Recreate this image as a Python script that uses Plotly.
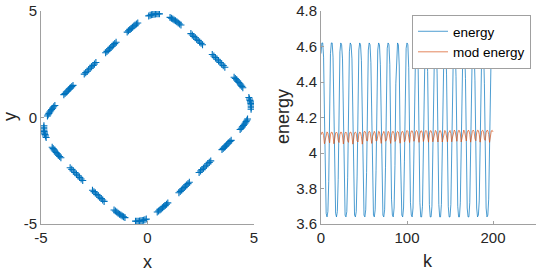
import plotly.graph_objects as go

# ---- phase-plane points (x, y) ----
x_pts = [
    -4.697, -4.665, -4.629, -4.589, -4.545, -4.503, -4.453, -4.403, -4.349,
    -3.927, -3.872, -3.820, -3.769, -3.713, -3.658, -3.606, -3.553, -3.497,
    -2.969, -2.901, -2.832, -2.764, -2.696, -2.628, -2.560, -2.491, -2.423,
    -1.965, -1.904, -1.843, -1.781, -1.720, -1.659, -1.598, -1.536, -1.475,
    -0.954, -0.891, -0.828, -0.765, -0.705, -0.642, -0.583, -0.520, -0.457,
    0.058, 0.121, 0.184, 0.247, 0.310, 0.373, 0.436, 0.499, 0.562,
    1.059, 1.123, 1.187, 1.251, 1.315, 1.379, 1.443, 1.507, 1.571,
    2.037, 2.105, 2.173, 2.242, 2.310, 2.378, 2.447, 2.515, 2.583,
    3.041, 3.115, 3.189, 3.262, 3.336, 3.410, 3.483, 3.557, 3.631,
    4.066, 4.123, 4.180, 4.234, 4.289, 4.342, 4.383, 4.430, 4.475,
    4.759, 4.789, 4.813, 4.834, 4.852, 4.862, 4.867, 4.868, 4.863,
    4.697, 4.665, 4.629, 4.589, 4.545, 4.503, 4.453, 4.403, 4.349,
    3.927, 3.872, 3.820, 3.769, 3.713, 3.658, 3.606, 3.553, 3.497,
    2.969, 2.901, 2.832, 2.764, 2.696, 2.628, 2.560, 2.491, 2.423,
    1.965, 1.904, 1.843, 1.781, 1.720, 1.659, 1.598, 1.536, 1.475,
    0.954, 0.891, 0.828, 0.765, 0.705, 0.642, 0.583, 0.520, 0.457,
    -0.058, -0.121, -0.184, -0.247, -0.310, -0.373, -0.436, -0.499, -0.562,
    -1.059, -1.123, -1.187, -1.251, -1.315, -1.379, -1.443, -1.507, -1.571,
    -2.037, -2.105, -2.173, -2.242, -2.310, -2.378, -2.447, -2.515, -2.583,
    -3.041, -3.115, -3.189, -3.262, -3.336, -3.410, -3.483, -3.557, -3.631,
    -4.066, -4.123, -4.180, -4.234, -4.289, -4.342, -4.383, -4.430, -4.475,
    -4.759, -4.789, -4.813, -4.834, -4.852, -4.862, -4.867, -4.868, -4.863,
]
y_pts = [
    0.068, 0.131, 0.194, 0.257, 0.320, 0.376, 0.439, 0.502, 0.565,
    1.073, 1.129, 1.182, 1.234, 1.290, 1.346, 1.399, 1.451, 1.507,
    2.037, 2.105, 2.173, 2.242, 2.310, 2.378, 2.447, 2.515, 2.583,
    3.042, 3.103, 3.164, 3.225, 3.286, 3.347, 3.408, 3.469, 3.530,
    4.010, 4.068, 4.126, 4.183, 4.235, 4.290, 4.338, 4.388, 4.436,
    4.770, 4.796, 4.819, 4.837, 4.852, 4.861, 4.867, 4.869, 4.866,
    4.699, 4.663, 4.623, 4.581, 4.537, 4.490, 4.441, 4.392, 4.340,
    3.939, 3.873, 3.808, 3.742, 3.677, 3.612, 3.546, 3.481, 3.415,
    2.961, 2.886, 2.811, 2.735, 2.660, 2.585, 2.509, 2.434, 2.359,
    1.893, 1.831, 1.769, 1.707, 1.645, 1.583, 1.521, 1.459, 1.397,
    0.941, 0.872, 0.803, 0.734, 0.665, 0.596, 0.527, 0.458, 0.389,
    -0.068, -0.131, -0.194, -0.257, -0.320, -0.376, -0.439, -0.502, -0.565,
    -1.073, -1.129, -1.182, -1.234, -1.290, -1.346, -1.399, -1.451, -1.507,
    -2.037, -2.105, -2.173, -2.242, -2.310, -2.378, -2.447, -2.515, -2.583,
    -3.042, -3.103, -3.164, -3.225, -3.286, -3.347, -3.408, -3.469, -3.530,
    -4.010, -4.068, -4.126, -4.183, -4.235, -4.290, -4.338, -4.388, -4.436,
    -4.770, -4.796, -4.819, -4.837, -4.852, -4.861, -4.867, -4.869, -4.866,
    -4.699, -4.663, -4.623, -4.581, -4.537, -4.490, -4.441, -4.392, -4.340,
    -3.939, -3.873, -3.808, -3.742, -3.677, -3.612, -3.546, -3.481, -3.415,
    -2.961, -2.886, -2.811, -2.735, -2.660, -2.585, -2.509, -2.434, -2.359,
    -1.893, -1.831, -1.769, -1.707, -1.645, -1.583, -1.521, -1.459, -1.397,
    -0.941, -0.872, -0.803, -0.734, -0.665, -0.596, -0.527, -0.458, -0.389,
]

# ---- energy vs step k ----
k_steps = list(range(201))
energy = [
    4.56, 4.62, 4.62, 4.54, 4.22, 3.79, 3.66, 3.64, 3.67, 3.84,
    4.29, 4.56, 4.62, 4.62, 4.54, 4.20, 3.78, 3.66, 3.64, 3.67, 3.85,
    4.31, 4.57, 4.62, 4.61, 4.53, 4.19, 3.78, 3.65, 3.64, 3.67, 3.86,
    4.32, 4.57, 4.62, 4.61, 4.53, 4.17, 3.77, 3.65, 3.64, 3.67, 3.87,
    4.34, 4.58, 4.62, 4.61, 4.52, 4.15, 3.76, 3.65, 3.64, 3.68, 3.89,
    4.35, 4.58, 4.62, 4.61, 4.51, 4.13, 3.75, 3.65, 3.64, 3.68, 3.90,
    4.37, 4.58, 4.62, 4.61, 4.50, 4.12, 3.74, 3.65, 3.64, 3.68, 3.92,
    4.38, 4.59, 4.62, 4.61, 4.50, 4.10, 3.74, 3.65, 3.64, 3.69, 3.93,
    4.39, 4.59, 4.62, 4.61, 4.49, 4.08, 3.73, 3.65, 3.64, 3.69, 3.95,
    4.40, 4.59, 4.62, 4.61, 4.48, 4.06, 3.72, 3.65, 3.64, 3.69, 3.96,
    4.42, 4.59, 4.62, 4.60, 4.47, 4.05, 3.72, 3.64, 3.64, 3.70, 3.98,
    4.43, 4.60, 4.62, 4.60, 4.46, 4.03, 3.71, 3.64, 3.64, 3.70, 3.99,
    4.44, 4.60, 4.62, 4.60, 4.45, 4.01, 3.71, 3.64, 3.64, 3.71, 4.01,
    4.45, 4.60, 4.62, 4.60, 4.44, 4.00, 3.70, 3.64, 3.64, 3.71, 4.03,
    4.46, 4.60, 4.62, 4.60, 4.43, 3.98, 3.70, 3.64, 3.64, 3.72, 4.04,
    4.47, 4.60, 4.62, 4.59, 4.42, 3.97, 3.69, 3.64, 3.64, 3.72, 4.06,
    4.48, 4.61, 4.62, 4.59, 4.41, 3.95, 3.69, 3.64, 3.65, 3.73, 4.08,
    4.49, 4.61, 4.62, 4.59, 4.39, 3.93, 3.69, 3.64, 3.65, 3.74, 4.10,
    4.50, 4.61, 4.62, 4.59,
]
mod_energy = [
    4.102, 4.117, 4.116, 4.098, 4.052, 4.082, 4.113, 4.119, 4.111, 4.074,
    4.057, 4.103, 4.117, 4.116, 4.097, 4.052, 4.084, 4.113, 4.118, 4.110,
    4.072, 4.059, 4.104, 4.118, 4.116, 4.096, 4.051, 4.085, 4.114, 4.118,
    4.109, 4.070, 4.060, 4.105, 4.118, 4.116, 4.094, 4.050, 4.087, 4.114,
    4.118, 4.109, 4.068, 4.062, 4.106, 4.118, 4.115, 4.093, 4.050, 4.089,
    4.119, 4.122, 4.112, 4.070, 4.068, 4.111, 4.122, 4.119, 4.095, 4.054,
    4.094, 4.119, 4.122, 4.111, 4.068, 4.069, 4.112, 4.122, 4.119, 4.093,
    4.054, 4.096, 4.119, 4.122, 4.110, 4.067, 4.071, 4.112, 4.122, 4.118,
    4.092, 4.054, 4.098, 4.120, 4.122, 4.109, 4.065, 4.073, 4.113, 4.122,
    4.118, 4.090, 4.055, 4.099, 4.120, 4.122, 4.108, 4.063, 4.075, 4.114,
    4.127, 4.122, 4.092, 4.059, 4.104, 4.124, 4.125, 4.111, 4.066, 4.081,
    4.118, 4.127, 4.121, 4.091, 4.060, 4.106, 4.124, 4.125, 4.110, 4.065,
    4.083, 4.119, 4.127, 4.121, 4.089, 4.061, 4.107, 4.125, 4.125, 4.109,
    4.063, 4.085, 4.119, 4.127, 4.120, 4.087, 4.062, 4.108, 4.125, 4.125,
    4.108, 4.062, 4.086, 4.120, 4.127, 4.120, 4.085, 4.063, 4.109, 4.125,
    4.127, 4.109, 4.063, 4.090, 4.123, 4.129, 4.121, 4.085, 4.066, 4.112,
    4.127, 4.126, 4.108, 4.062, 4.092, 4.123, 4.129, 4.121, 4.083, 4.068,
    4.113, 4.127, 4.126, 4.106, 4.061, 4.094, 4.123, 4.129, 4.120, 4.081,
    4.069, 4.114, 4.128, 4.126, 4.105, 4.061, 4.096, 4.124, 4.128, 4.119,
    4.079, 4.071, 4.115, 4.128, 4.126, 4.104, 4.060, 4.097, 4.124, 4.128,
    4.119,
]

phase_ticks = [-5, 0, 5]
phase_ticktext = ["-5", "0", "5"]
k_ticks = [0, 100, 200]
e_ticks = [3.6, 3.8, 4.0, 4.2, 4.4, 4.6, 4.8]
e_ticktext = ["3.6", "3.8", "4", "4.2", "4.4", "4.6", "4.8"]

BLUE = "#0072BD"
ORANGE = "#D95319"
AXC = "#a0a0a0"
TXT = "#262626"
FONT = "Liberation Sans, Arial, Helvetica, sans-serif"
W, H = 540, 274

fig = go.Figure()
fig.add_trace(go.Scatter(
    x=x_pts, y=y_pts, mode="markers", xaxis="x", yaxis="y", showlegend=False,
    marker=dict(symbol="cross-thin", size=5, color=BLUE,
                line=dict(color=BLUE, width=1.1)),
))
fig.add_trace(go.Scatter(
    x=k_steps, y=energy, mode="lines", name="energy", xaxis="x2", yaxis="y2",
    line=dict(color=BLUE, width=0.7),
))
fig.add_trace(go.Scatter(
    x=k_steps, y=mod_energy, mode="lines", name="mod energy", xaxis="x2", yaxis="y2",
    line=dict(color=ORANGE, width=0.7),
))

axis_common = dict(
    showgrid=False, zeroline=False, showline=True, linecolor=AXC, linewidth=1,
    ticks="inside", ticklen=3, tickcolor=AXC, mirror=False, automargin=False,
    tickfont=dict(family=FONT, size=15, color=TXT),
)

title_font = dict(family=FONT, size=18, color=TXT)
annotations = [
    dict(text="x", x=147.5 / W, y=1 - 262 / H, xref="paper", yref="paper",
         showarrow=False, xanchor="center", yanchor="middle", font=title_font),
    dict(text="y", x=10 / W, y=1 - 117 / H, xref="paper", yref="paper",
         showarrow=False, xanchor="center", yanchor="middle", textangle=-90,
         font=title_font),
    dict(text="k", x=428 / W, y=1 - 261 / H, xref="paper", yref="paper",
         showarrow=False, xanchor="center", yanchor="middle", font=title_font),
    dict(text="energy", x=283 / W, y=1 - 117 / H, xref="paper", yref="paper",
         showarrow=False, xanchor="center", yanchor="middle", textangle=-90,
         font=title_font),
]

fig.update_layout(
    width=W, height=H,
    margin=dict(l=0, r=0, t=0, b=0, autoexpand=False),
    paper_bgcolor="white", plot_bgcolor="white",
    font=dict(family=FONT, color=TXT),
    xaxis=dict(domain=[41/W, 254/W], range=[-5, 5], anchor="y",
               tickvals=phase_ticks, ticktext=phase_ticktext, **axis_common),
    yaxis=dict(domain=[50/H, 263/H], range=[-5, 5], anchor="x",
               tickvals=phase_ticks, ticktext=phase_ticktext, **axis_common),
    xaxis2=dict(domain=[321/W, 536/W], range=[0, 250], anchor="y2",
                tickvals=k_ticks, **axis_common),
    yaxis2=dict(domain=[50/H, 263/H], range=[3.6, 4.8], anchor="x2",
                tickvals=e_ticks, ticktext=e_ticktext, **axis_common),
    legend=dict(x=531/W, y=1 - 15/H, xanchor="right", yanchor="top",
                bgcolor="white", bordercolor="#a0a0a0", borderwidth=1,
                font=dict(family=FONT, size=13.5, color="#000000"),
                tracegroupgap=0, itemwidth=30),
    annotations=annotations,
)

fig.write_html("out.html",
               config={"displayModeBar": False},
               post_script="document.body.style.margin='0';document.body.style.padding='0';")
